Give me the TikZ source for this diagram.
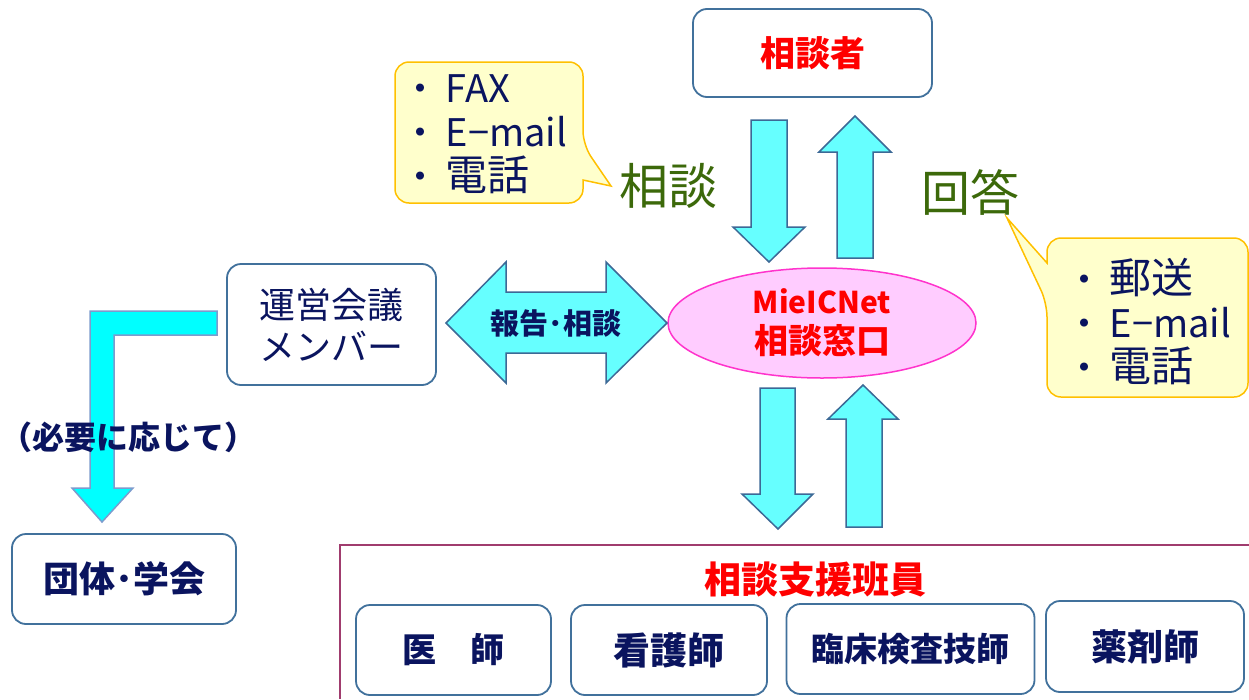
\documentclass[tikz,border=0pt]{standalone}
\usepackage{fontspec}
\setmainfont{Noto Sans CJK JP}
\usetikzlibrary{shapes.geometric}
\definecolor{boxblue}{RGB}{65,113,156}
\definecolor{navy}{RGB}{10,20,95}
\definecolor{arrowfill}{RGB}{102,255,255}
\definecolor{arrowline}{RGB}{60,105,150}
\definecolor{bentfill}{RGB}{0,255,255}
\definecolor{bentline}{RGB}{125,155,205}
\definecolor{pinkfill}{RGB}{255,204,255}
\definecolor{pinkline}{RGB}{255,51,204}
\definecolor{calloutfill}{RGB}{255,255,204}
\definecolor{calloutline}{RGB}{255,192,0}
\definecolor{leafgreen}{RGB}{60,105,10}
\definecolor{teamline}{RGB}{160,60,110}
\newcommand\bigkanji[1]{{\fontsize{42}{44}\selectfont #1}}
\begin{document}
\begin{tikzpicture}[x=1pt,y=-1pt,
    box/.style={draw=boxblue, line width=1.8pt, rounded corners=14pt, fill=white, inner sep=0pt,
      text=navy, align=center, font=\bfseries\fontsize{36}{38}\selectfont},
    barrow/.style={draw=arrowline, line width=1.5pt, fill=arrowfill},
    callout/.style={draw=calloutline, line width=1.5pt, fill=calloutfill},
    talk/.style={text=navy, align=left, font=\fontsize{38}{44}\selectfont},
    greenlabel/.style={text=leafgreen, font=\fontsize{49}{49}\selectfont}]
\useasboundingbox (0,0) rectangle (1249,699);

% speech bubbles
\draw[callout] (395,140) [rounded corners=14pt] |- (583,62) -- (583,145)
  [sharp corners] -- (611,186) -- (583,180) [rounded corners=14pt] |- (395,203) -- cycle;
\draw[callout] (1047,303) -- (1007,218) -- (1047,263) [rounded corners=14pt]
  |- (1248,238) |- (1047,397) -- cycle;
\node[talk, anchor=west] (howin) at (398,134) {・\,FAX\\・\,E−mail\\・\,\bigkanji{電話}};
\node[talk, anchor=west] (howout) at (1062,322) {・\,\bigkanji{郵送}\\・\,E−mail\\・\,\bigkanji{電話}};
\node[greenlabel] (consult) at (668,186) {相談};
\node[greenlabel] (answer) at (970,193) {回答};

% nodes
\node[box, text=red, font=\bfseries\fontsize{35}{36}\selectfont, minimum width=239pt, minimum height=88pt] (asker) at (812.5,53) {相談者};
\node[ellipse, draw=pinkline, fill=pinkfill, line width=1.5pt, inner sep=0pt,
  minimum width=308pt, minimum height=110pt, text=red, align=center,
  font=\bfseries\fontsize{30}{40}\selectfont] (desk) at (822,323) {MieICNet\\{\fontsize{34}{40}\selectfont 相談窓口}};
\node[box, font=\fontsize{36}{42}\selectfont, minimum width=209pt, minimum height=121pt] (board) at (331.5,324.5) {運営会議\\メンバー};
\node[box, minimum width=224pt, minimum height=90pt] (society) at (124,579) {団体･学会};

% block arrows
\draw[barrow] (751,120) -- (787,120) -- (787,227) -- (805,227) -- (769,262) -- (733,227) -- (751,227) -- cycle;
\draw[barrow] (855,116) -- (891,152) -- (873,152) -- (873,258) -- (837,258) -- (837,152) -- (819,152) -- cycle;
\draw[barrow] (760,388) -- (795,388) -- (795,494) -- (813,494) -- (778,529) -- (742,494) -- (760,494) -- cycle;
\draw[barrow] (863,385) -- (898,419) -- (882,419) -- (882,527) -- (846,527) -- (846,419) -- (828,419) -- cycle;
\draw[barrow] (446,323) -- (506,262) -- (506,292) -- (606,292) -- (606,262) -- (667,323)
  -- (606,383) -- (606,353) -- (506,353) -- (506,383) -- cycle;
\node[text=navy, font=\bfseries\fontsize{29}{29}\selectfont] (report) at (556,323) {報告･相談};
\draw[draw=bentline, line width=1.5pt, fill=bentfill] (217,311) -- (90,311) -- (90,488) -- (72,488)
  -- (102,522) -- (133,488) -- (114,488) -- (114,335) -- (217,335) -- cycle;
\node[text=navy, inner sep=0pt, font=\bfseries\fontsize{32}{32}\selectfont] (ifneeded) at (128,437) {（必要に応じて）};

% support team
\draw[teamline, line width=1.5pt] (1249,545) -| (340,699);
\node[text=red, font=\bfseries\fontsize{37}{37}\selectfont] (team) at (815,579) {相談支援班員};
\node[box, font=\bfseries\fontsize{34}{36}\selectfont, minimum width=195pt, minimum height=90pt] (doctor) at (453.5,650) {医　師};
\node[box, font=\bfseries\fontsize{37}{38}\selectfont, minimum width=196pt, minimum height=90pt] (nurse) at (669,650) {看護師};
\node[box, font=\bfseries\fontsize{33}{36}\selectfont, minimum width=248pt, minimum height=90pt] (labtech) at (910.5,649) {臨床検査技師};
\node[box, font=\bfseries\fontsize{36}{38}\selectfont, minimum width=198pt, minimum height=91pt] (pharmacist) at (1145,646.5) {薬剤師};
\end{tikzpicture}
\end{document}
